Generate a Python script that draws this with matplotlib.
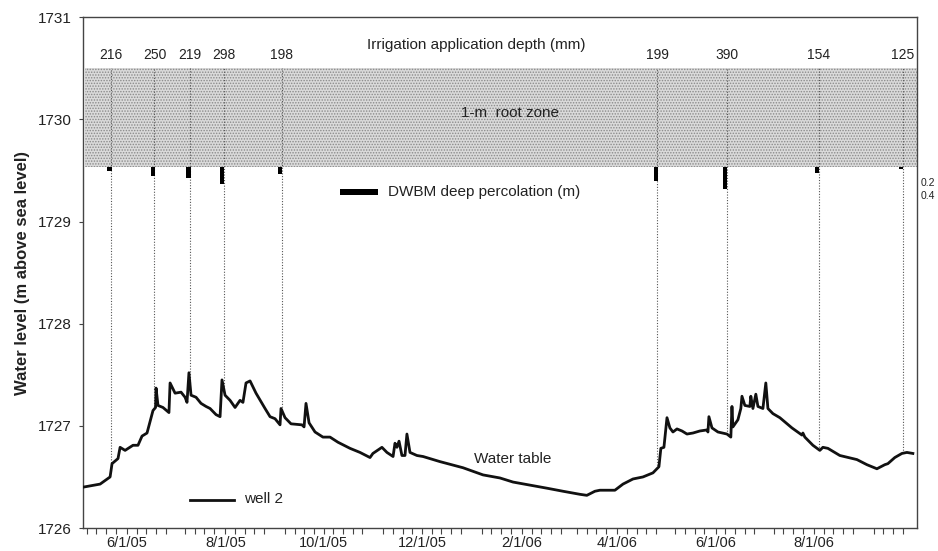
import numpy as np
import pandas as pd
import matplotlib
matplotlib.use("Agg")
import matplotlib.pyplot as plt
import matplotlib.dates as mdates
from matplotlib.patches import Rectangle
from matplotlib.lines import Line2D

plt.rcParams['font.family'] = ['Liberation Sans', 'DejaVu Sans']
plt.rcParams['hatch.linewidth'] = 0.7

# ---------------- data ----------------
base_date = "2005-06-01"
# water table, well 2 : days after 2005-06-01 and level (m a.s.l.)
wt_days = [-27.3, -16.7, -10.5, -9.3, -5.6, -4.3, -1.2, 3.7, 6.8, 9.3, 12.4, 16.1, 17.7, 18.0,
           19.2, 22.3, 26.0, 26.7, 29.8, 33.5, 36.0, 37.2, 38.4, 39.7, 42.8, 45.9, 49.0, 51.5,
           55.2, 57.7, 58.9, 60.8, 63.9, 67.0, 70.1, 71.9, 73.8, 76.3, 80.0, 85.6, 88.7, 91.8,
           94.9, 95.5, 98.0, 101.7, 108.5, 109.8, 111.0, 112.9, 116.6, 121.5, 125.9, 130.8,
           138.3, 144.5, 150.7, 152.5, 158.1, 161.2, 165.0, 166.2, 167.4, 168.7, 170.5, 172.4,
           173.6, 175.5, 179.8, 183.6, 194.1, 208.4, 220.8, 231.3, 239.4, 260.4, 270.4, 280.9,
           285.2, 290.2, 293.3, 302.6, 307.6, 313.8, 320.0, 326.2, 329.9, 331.1, 333.0, 334.9,
           336.7, 338.6, 341.1, 344.2, 347.3, 351.0, 355.3, 359.7, 360.3, 360.9, 362.8, 366.5,
           372.1, 374.5, 375.2, 375.8, 378.9, 380.7, 381.4, 383.2, 386.3, 386.9, 388.2, 390.0,
           391.3, 394.4, 396.2, 397.5, 400.6, 404.9, 412.4, 418.6, 419.2, 420.4, 425.4, 429.7,
           431.6, 434.7, 442.1, 452.7, 458.9, 465.1, 470.0, 471.9, 476.2, 480.6, 483.7, 487.4]
wt_level = [1726.40, 1726.43, 1726.50, 1726.63, 1726.68, 1726.79, 1726.76, 1726.81, 1726.81,
            1726.90, 1726.93, 1727.15, 1727.18, 1727.37, 1727.20, 1727.18, 1727.13, 1727.42,
            1727.32, 1727.33, 1727.28, 1727.23, 1727.52, 1727.30, 1727.28, 1727.22, 1727.19,
            1727.17, 1727.11, 1727.09, 1727.45, 1727.30, 1727.25, 1727.18, 1727.25, 1727.23,
            1727.42, 1727.44, 1727.32, 1727.17, 1727.09, 1727.07, 1727.01, 1727.17, 1727.08,
            1727.02, 1727.01, 1726.99, 1727.22, 1727.03, 1726.94, 1726.89, 1726.89, 1726.84,
            1726.78, 1726.74, 1726.69, 1726.73, 1726.79, 1726.74, 1726.70, 1726.83, 1726.79,
            1726.85, 1726.71, 1726.71, 1726.92, 1726.74, 1726.71, 1726.70, 1726.65, 1726.59,
            1726.52, 1726.49, 1726.45, 1726.39, 1726.36, 1726.33, 1726.32, 1726.36, 1726.37,
            1726.37, 1726.43, 1726.48, 1726.50, 1726.54, 1726.60, 1726.78, 1726.79, 1727.08,
            1726.98, 1726.94, 1726.97, 1726.95, 1726.92, 1726.93, 1726.95, 1726.96, 1726.94,
            1727.09, 1726.98, 1726.94, 1726.92, 1726.89, 1727.19, 1726.99, 1727.06, 1727.17,
            1727.29, 1727.20, 1727.19, 1727.29, 1727.17, 1727.31, 1727.19, 1727.17, 1727.42,
            1727.17, 1727.12, 1727.08, 1726.98, 1726.91, 1726.93, 1726.89, 1726.81, 1726.76,
            1726.79, 1726.78, 1726.71, 1726.67, 1726.62, 1726.58, 1726.62, 1726.63, 1726.69,
            1726.73, 1726.74, 1726.73]

irrig_dates = ["2005-05-22", "2005-06-18", "2005-07-10", "2005-07-31", "2005-09-05",
               "2006-04-26", "2006-06-08", "2006-08-04", "2006-09-25"]
irrig_depth_mm = [216, 250, 219, 298, 198, 199, 390, 154, 125]
deep_perc_m = [0.06, 0.13, 0.16, 0.25, 0.10, 0.20, 0.32, 0.09, 0.03]

root_zone_top = 1730.5
root_zone_bottom = 1729.53
x_tick_dates = ["2005-06-01", "2005-08-01", "2005-10-01", "2005-12-01",
                "2006-02-01", "2006-04-01", "2006-06-01", "2006-08-01"]
y_ticks = [1726, 1727, 1728, 1729, 1730, 1731]
perc_scale_labels = [0.2, 0.4]

# ---------------- derived ----------------
t0 = pd.Timestamp(base_date)
wt_time = t0 + pd.to_timedelta(np.array(wt_days), unit="D")
irr_time = pd.to_datetime(irrig_dates)
irr_days = np.array([(d - t0).days for d in irr_time], dtype=float)
level_at_irr = np.interp(irr_days, wt_days, wt_level)
perc_to_axis = 0.66  # bar length in axis metres per metre of percolation

fig = plt.figure(figsize=(9.38, 5.51), dpi=100)
ax = fig.add_axes([0.0885, 0.0417, 0.889, 0.927])

xmin = t0 + pd.Timedelta(days=-27.3)
xmax = t0 + pd.Timedelta(days=489.9)
ax.set_xlim(xmin, xmax)
ax.set_ylim(1726, 1731)

# root zone band
x0n = mdates.date2num(t0 + pd.Timedelta(days=-26.0))
x1n = mdates.date2num(xmax)
ax.add_patch(Rectangle((x0n, root_zone_bottom), x1n - x0n, root_zone_top - root_zone_bottom,
                       facecolor="#dadada", edgecolor="#8a8a8a", hatch="......",
                       linewidth=0, zorder=1))
ax.text(0.512, 0.812, "1-m  root zone", transform=ax.transAxes, ha="center", va="center",
        fontsize=11, color="#222222", zorder=5)

# dotted verticals at irrigation dates
ax.vlines(irr_time, level_at_irr, root_zone_top, colors="#555555", linestyles=(0, (1, 1.5)),
          linewidth=0.8, zorder=2)
for t, d in zip(irr_time, irrig_depth_mm):
    ax.text(t, 1730.63, str(d), ha="center", va="center", fontsize=10, color="#222222")
ax.text(0.471, 0.945, "Irrigation application depth (mm)", transform=ax.transAxes,
        ha="center", va="center", fontsize=11, color="#222222")

# deep percolation bars (hang below root zone)
bar_len = np.array(deep_perc_m) * perc_to_axis
ax.bar(irr_time - pd.Timedelta(days=1), -bar_len, width=2.8, bottom=root_zone_bottom,
       color="black", zorder=3)
for v in perc_scale_labels:
    ax.text(1.005, root_zone_bottom - v * perc_to_axis - 0.02, f"{v:.1f}",
            transform=ax.get_yaxis_transform(), ha="left", va="center", fontsize=7.5,
            color="#222222", clip_on=False)
ax.add_patch(Rectangle((0.308, 0.652), 0.046, 0.011, transform=ax.transAxes,
                       facecolor="black", edgecolor="none"))
ax.text(0.366, 0.658, "DWBM deep percolation (m)", transform=ax.transAxes, ha="left",
        va="center", fontsize=11, color="#222222")

# water table
ax.plot(wt_time, wt_level, color="#111111", linewidth=2.0, zorder=4,
        solid_joinstyle="round")
ax.text(0.515, 0.135, "Water table", transform=ax.transAxes, ha="center", va="center",
        fontsize=11, color="#222222")
ax.add_line(Line2D([0.128, 0.181], [0.055, 0.055], transform=ax.transAxes,
                   color="#111111", linewidth=2.0))
ax.text(0.193, 0.057, "well 2", transform=ax.transAxes, ha="left", va="center",
        fontsize=11, color="#222222")

# axes styling
ax.set_xticks(pd.to_datetime(x_tick_dates))
ax.xaxis.set_major_formatter(mdates.DateFormatter("%-m/%-d/%y"))
ax.xaxis.set_minor_locator(mdates.DayLocator(bymonthday=[7, 13, 19, 25]))
ax.tick_params(axis="x", which="both", direction="out", length=4, width=0.8,
               labelsize=10.5, colors="#444444", labelcolor="#222222", pad=1.5)
ax.set_yticks(y_ticks)
ax.tick_params(axis="y", direction="out", length=3, width=0.8, labelsize=11,
               colors="#444444", labelcolor="#222222", pad=5)
for s in ax.spines.values():
    s.set_color("#444444")
    s.set_linewidth(1.0)
ax.set_ylabel("Water level (m above sea level)", fontsize=12, fontweight="bold",
              color="#222222", labelpad=6)

fig.savefig("out.png", dpi=100)
